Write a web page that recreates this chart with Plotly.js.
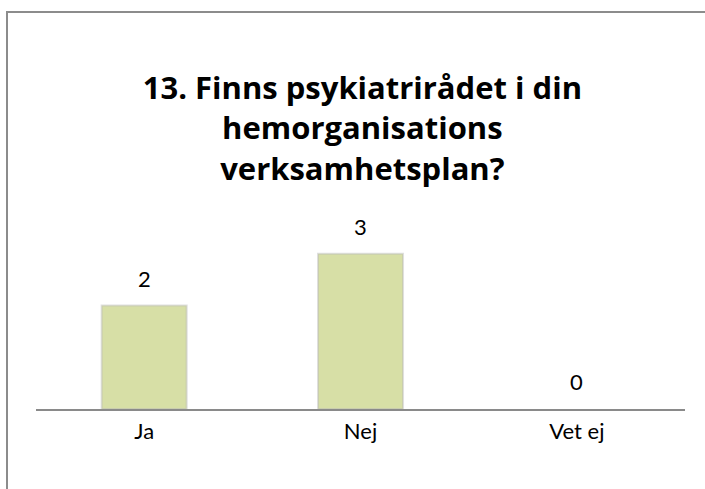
<!DOCTYPE html>
<html>
<head>
<meta charset="utf-8">
<script src="https://cdn.plot.ly/plotly-3.0.1.min.js"></script>
<style>html,body{margin:0;padding:0;background:#fff;}#chart{width:705px;height:489px;}</style>
</head>
<body>
<div id="chart"></div>
<script>
const categories = ["Ja", "Nej", "Vet ej"];
const values = [2, 3, 0];
const valueLabels = ["2", "3", "0"];
const titleText = "13. Finns psykiatrirådet i din<br>hemorganisations<br>verksamhetsplan?";

const font = "Lato, 'Open Sans', sans-serif";
const titleFont = "'Open Sans', Lato, sans-serif";

const trace = {
  type: "bar",
  x: categories,
  y: values,
  marker: {
    color: "#d7dfa6",
    line: { color: "rgba(185,185,185,0.45)", width: values.map(v => v > 0 ? 2 : 0) }
  },
  hoverinfo: "none"
};

const annotations = categories.map((c, i) => ({
  x: c, y: values[i], text: valueLabels[i],
  xref: "x", yref: "y", showarrow: false,
  yanchor: "bottom", yshift: 12,
  font: { family: font, size: 22, color: "#000" }
}));

const layout = {
  width: 705, height: 489,
  margin: { l: 36, r: 20, t: 228, b: 80 },
  paper_bgcolor: "#fff", plot_bgcolor: "#fff",
  showlegend: false,
  bargap: 0.607,
  title: {
    text: titleText,
    x: 0.514, xanchor: "center",
    y: 0.7975, yanchor: "middle",
    yref: "container",
    pad: { t: 0, b: 0, l: 0, r: 0 },
    font: { family: titleFont, size: 31, color: "#000", weight: "bold" }
  },
  xaxis: {
    type: "category",
    showline: true, linecolor: "#8a8a8a", linewidth: 2,
    ticks: "", showgrid: false, zeroline: false,
    ticklabelstandoff: 2,
    tickfont: { family: font, size: 22, color: "#000" }
  },
  yaxis: {
    range: [0, 3.5], visible: false, showgrid: false, zeroline: false
  },
  annotations: annotations,
  shapes: [{
    type: "rect", xref: "paper", yref: "paper",
    x0: (7 - 36) / 649, x1: (725 - 36) / 649,
    y0: (409 - 500) / 181, y1: (409 - 12) / 181,
    line: { color: "#8c8c8c", width: 2 }, fillcolor: "rgba(0,0,0,0)",
    layer: "below"
  }]
};

Plotly.newPlot("chart", [trace], layout, { displayModeBar: false, staticPlot: true });
</script>
</body>
</html>
